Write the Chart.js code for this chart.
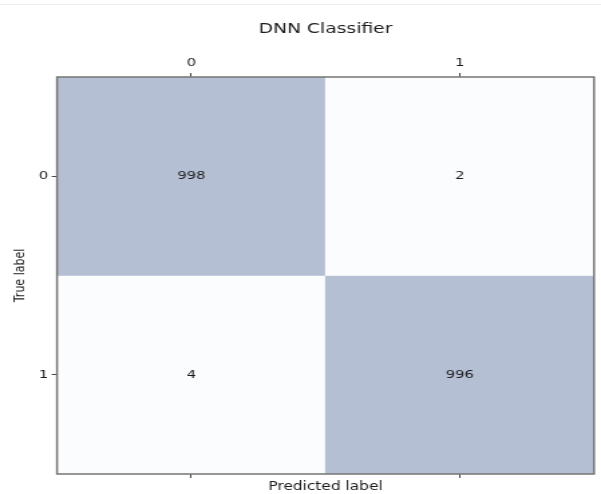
<!DOCTYPE html>
<html>
<head>
<meta charset="utf-8">
<script src="https://cdn.jsdelivr.net/npm/chart.js@4/dist/chart.umd.min.js"></script>
<style>
  html, body { margin: 0; padding: 0; background: #fff; overflow: hidden; }
  /* drawn at a narrower width, then stretched to the page width */
  #cm { display: block; width: 601px !important; height: 494px !important; }
</style>
</head>
<body>
<canvas id="cm" width="449" height="494" style="width:601px;height:494px"></canvas>
<script>
// Confusion matrix: rows = true label, columns = predicted label
const predictedLabels = ['0', '1'];
const trueLabels = ['0', '1'];
const rowTrue0 = [998, 2];
const rowTrue1 = [4, 996];
const counts = [rowTrue0, rowTrue1];
const chartTitle = 'DNN Classifier';
const xTitle = 'Predicted label';
const yTitle = 'True label';

const FONT = "'DejaVu Sans', sans-serif";
const TEXT = '#1c1c1c';

// cell shade from count (light -> dark)
const allCounts = counts.flat();
const cMin = Math.min(...allCounts), cMax = Math.max(...allCounts);
const light = [251, 252, 254], dark = [180, 191, 211];
function shade(v) {
  const t = (v - cMin) / (cMax - cMin);
  const c = light.map((l, i) => Math.round(l + (dark[i] - l) * t));
  return `rgb(${c[0]},${c[1]},${c[2]})`;
}

// one floating-bar dataset per true-label row, spanning that row's band
const datasets = counts.map((row, r) => ({
  label: trueLabels[r],
  data: row.map(() => [r - 0.5, r + 0.5]),
  counts: row,
  backgroundColor: row.map(shade),
  borderWidth: 0,
  borderSkipped: false,
  grouped: false,
  barPercentage: 1,
  categoryPercentage: 1,
  xAxisID: 'x',
  yAxisID: 'y'
}));

const cellText = {
  id: 'cellText',
  afterDatasetsDraw(chart) {
    const ctx = chart.ctx;
    ctx.save();
    ctx.font = `11px ${FONT}`;
    ctx.fillStyle = TEXT;
    ctx.textAlign = 'center';
    ctx.textBaseline = 'middle';
    chart.data.datasets.forEach((ds, i) => {
      chart.getDatasetMeta(i).data.forEach((bar, j) => {
        const p = bar.getCenterPoint();
        ctx.fillText(String(ds.counts[j]), p.x, p.y);
      });
    });
    ctx.restore();
  }
};

const frame = {
  id: 'frame',
  afterDraw(chart) {
    const a = chart.chartArea, ctx = chart.ctx;
    ctx.save();
    ctx.strokeStyle = '#767676';
    ctx.lineWidth = 1.5;
    ctx.strokeRect(a.left, a.top, a.right - a.left, a.bottom - a.top);
    // thin rule along the top edge of the figure
    ctx.strokeStyle = '#eeeeee';
    ctx.lineWidth = 1;
    ctx.beginPath();
    ctx.moveTo(0, 4.5);
    ctx.lineTo(chart.width, 4.5);
    ctx.stroke();
    ctx.restore();
  }
};

const tickGrid = { display: true, drawOnChartArea: false, offset: false, tickLength: 4, color: '#444', lineWidth: 1 };

new Chart(document.getElementById('cm'), {
  type: 'bar',
  data: { labels: predictedLabels, datasets },
  options: {
    responsive: false,
    animation: false,
    devicePixelRatio: 1,
    layout: { padding: { left: 0, right: 5.2, top: 0, bottom: 0 } },
    plugins: {
      legend: { display: false },
      tooltip: { enabled: false },
      title: {
        display: true,
        fullSize: false,
        text: chartTitle,
        color: TEXT,
        font: { family: FONT, size: 14, weight: 'normal' },
        padding: { top: 20.6, bottom: 0 }
      }
    },
    scales: {
      x: {
        type: 'category',
        labels: predictedLabels,
        position: 'top',
        offset: true,
        grid: tickGrid,
        border: { display: false },
        ticks: { color: TEXT, padding: 3, font: { family: FONT, size: 11 }, maxRotation: 0 },
        afterFit(s) { s.height = 39.6; }
      },
      x2: {
        type: 'category',
        labels: predictedLabels,
        position: 'bottom',
        offset: true,
        grid: tickGrid,
        border: { display: false },
        ticks: { callback: () => '', font: { family: FONT, size: 11 } },
        title: { display: true, text: xTitle, color: TEXT, font: { family: FONT, size: 11.5 }, padding: { top: 0, bottom: 0 } },
        afterFit(s) { s.height = 20; }
      },
      y: {
        type: 'linear',
        position: 'left',
        reverse: true,
        min: -0.5,
        max: 1.5,
        grid: tickGrid,
        border: { display: false },
        afterBuildTicks(s) { s.ticks = trueLabels.map((_, i) => ({ value: i })); },
        ticks: { color: TEXT, padding: 2.5, font: { family: FONT, size: 11 }, callback: v => trueLabels[v] },
        title: { display: true, text: yTitle, color: TEXT, font: { family: FONT, size: 11 }, padding: { top: 8.7, bottom: 0 } },
        afterFit(s) { s.width = 42.6; }
      }
    }
  },
  plugins: [cellText, frame]
});
</script>
</body>
</html>
